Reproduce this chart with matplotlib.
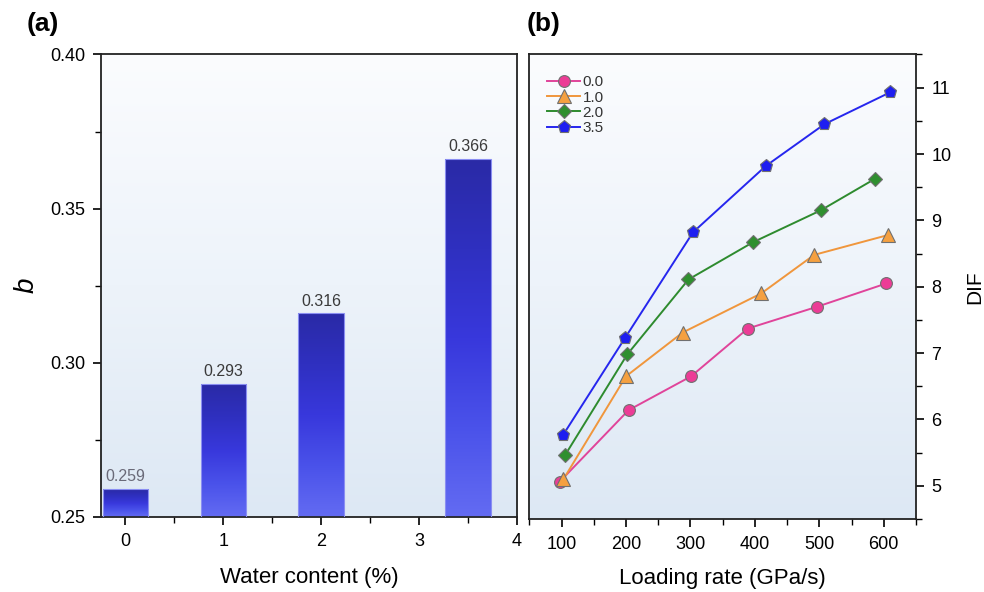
import numpy as np
import matplotlib
matplotlib.use('Agg')
import matplotlib.pyplot as plt
from matplotlib.colors import LinearSegmentedColormap
from matplotlib.ticker import MultipleLocator

plt.rcParams['font.family'] = ['Liberation Sans', 'DejaVu Sans']

# panel (a): b vs water content
water = [0, 1, 2, 3.5]
b_vals = [0.259, 0.293, 0.316, 0.366]

# panel (b): DIF vs loading rate, one series per water content
series_names = ['0.0', '1.0', '2.0', '3.5']
rate_00 = [97, 204, 301, 389, 497, 604]
dif_00 = [5.06, 6.14, 6.65, 7.37, 7.70, 8.05]
rate_10 = [103, 200, 288, 410, 492, 607]
dif_10 = [5.10, 6.65, 7.31, 7.90, 8.48, 8.78]
rate_20 = [106, 202, 297, 397, 502, 587]
dif_20 = [5.47, 6.98, 8.11, 8.67, 9.15, 9.63]
rate_35 = [102, 198, 304, 417, 508, 610]
dif_35 = [5.76, 7.22, 8.82, 9.82, 10.45, 10.93]

fig = plt.figure(figsize=(9.84, 5.92), dpi=100)
ax1 = fig.add_axes([0.1026, 0.127, 0.4228, 0.781])
ax2 = fig.add_axes([0.5379, 0.1233, 0.3930, 0.7847])

bg = LinearSegmentedColormap.from_list('bg', ['#dde8f4', '#edf3fa', '#fbfcfe'])
grad = np.linspace(0, 1, 256).reshape(-1, 1)
for ax in (ax1, ax2):
    ax.imshow(grad, cmap=bg, origin='lower', extent=[0, 1, 0, 1],
              transform=ax.transAxes, aspect='auto', zorder=0)
    for s in ax.spines.values():
        s.set_linewidth(1.3)
        s.set_color('#222222')

# (a) bars with vertical gradient
barcmap = LinearSegmentedColormap.from_list(
    'bars', ['#636bf2', '#4a52ea', '#3838dc', '#2f30c0', '#2a2aa6'])
bars = ax1.bar(water, [v - 0.25 for v in b_vals], bottom=0.25, width=0.466,
               facecolor='none', edgecolor='#8a8ef2', linewidth=0.8, zorder=3)
for rect, v in zip(bars, b_vals):
    x0 = rect.get_x()
    im = ax1.imshow(grad, cmap=barcmap, origin='lower', aspect='auto',
                    extent=[x0, x0 + rect.get_width(), 0.25, v], zorder=2)
    im.set_clip_path(rect)
    col = '#6a6a78' if v < 0.27 else '#3a3a3a'
    ax1.annotate(f'{v:.3f}', (rect.get_x() + rect.get_width() / 2, v),
                 xytext=(0, 3.5), textcoords='offset points',
                 ha='center', va='bottom', fontsize=11.5, color=col, zorder=4)
ax1.set_xlim(-0.25, 4)
ax1.set_ylim(0.25, 0.40)
ax1.set_xticks([0, 1, 2, 3, 4])
ax1.xaxis.set_minor_locator(MultipleLocator(0.5))
ax1.set_yticks([0.25, 0.30, 0.35, 0.40])
ax1.set_yticklabels(['0.25', '0.30', '0.35', '0.40'])
ax1.yaxis.set_minor_locator(MultipleLocator(0.025))
ax1.tick_params(which='major', direction='out', length=6, width=1.2,
                labelsize=13, pad=6)
ax1.tick_params(axis='y', which='major', pad=5)
ax1.tick_params(which='minor', direction='out', length=4, width=1.0)
ax1.set_xlabel('Water content (%)', fontsize=16, labelpad=12)
ax1.set_ylabel('b', fontsize=20, fontstyle='italic', labelpad=8)

# (b) DIF curves
styles = [
    (rate_00, dif_00, '#e0449a', '#ec3c96', 'o', 8.5),
    (rate_10, dif_10, '#f0963c', '#f5a040', '^', 9.5),
    (rate_20, dif_20, '#2e8b2e', '#2f8f2f', 'D', 7.5),
    (rate_35, dif_35, '#2626ee', '#1e1ef0', 'p', 9.5),
]
for (xs, ys, lc, mc, mk, ms), name in zip(styles, series_names):
    ax2.plot(xs, ys, color=lc, linewidth=1.4, marker=mk, markersize=ms,
             markerfacecolor=mc, markeredgecolor='#707070',
             markeredgewidth=0.8, label=name, zorder=3)
ax2.set_xlim(50, 650)
ax2.set_ylim(4.5, 11.5)
ax2.set_xticks([100, 200, 300, 400, 500, 600])
ax2.xaxis.set_minor_locator(MultipleLocator(50))
ax2.set_yticks([5, 6, 7, 8, 9, 10, 11])
ax2.yaxis.set_minor_locator(MultipleLocator(0.5))
ax2.yaxis.tick_right()
ax2.yaxis.set_label_position('right')
ax2.tick_params(which='major', direction='out', length=6, width=1.2,
                labelsize=13, pad=6)
ax2.tick_params(axis='y', which='major', pad=5)
ax2.tick_params(which='minor', direction='out', length=4, width=1.0)
ax2.set_xlabel('Loading rate (GPa/s)', fontsize=16, labelpad=11)
ax2.set_ylabel('DIF', fontsize=15, labelpad=10)
leg = ax2.legend(loc='upper left', bbox_to_anchor=(0.045, 0.955), frameon=False,
                 fontsize=11, handlelength=2.2, handletextpad=0.15,
                 labelspacing=0.08, borderaxespad=0, borderpad=0,
                 markerscale=1.0)
for t in leg.get_texts():
    t.set_color('#333333')

fig.text(0.027, 0.96, '(a)', fontsize=19, fontweight='bold', va='center')
fig.text(0.535, 0.96, '(b)', fontsize=19, fontweight='bold', va='center')

fig.savefig('out.png', dpi=100)
